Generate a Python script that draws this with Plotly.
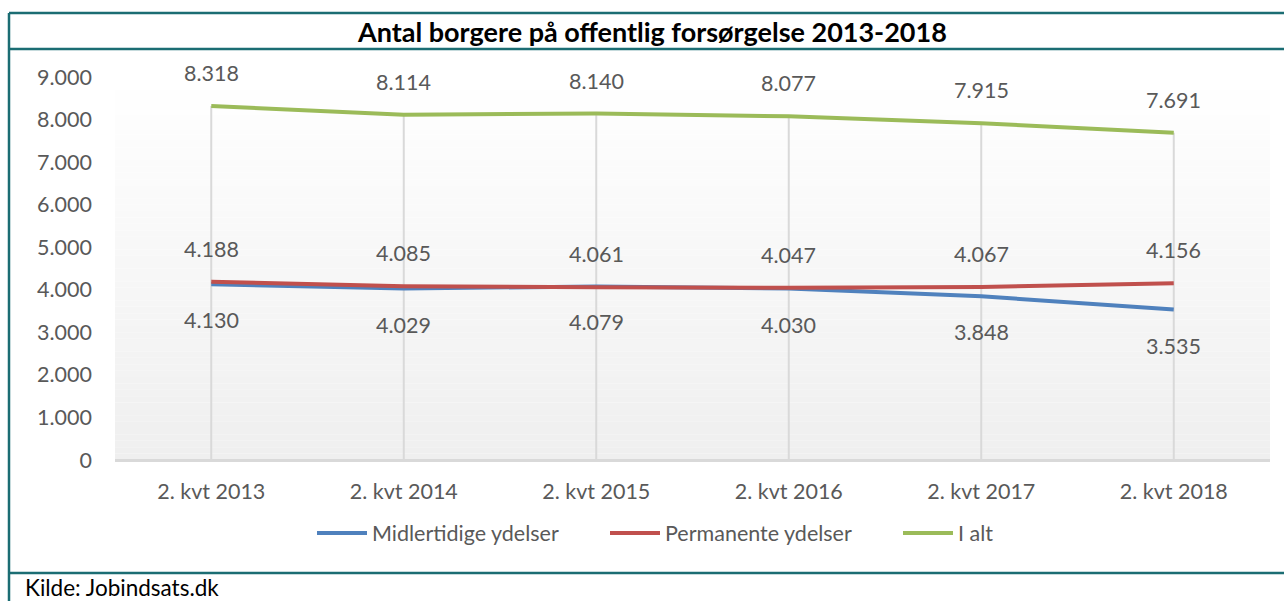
import plotly.graph_objects as go

categories = ["2. kvt 2013", "2. kvt 2014", "2. kvt 2015", "2. kvt 2016", "2. kvt 2017", "2. kvt 2018"]
midlertidige = [4130, 4029, 4079, 4030, 3848, 3535]
permanente = [4188, 4085, 4061, 4047, 4067, 4156]
i_alt = [8318, 8114, 8140, 8077, 7915, 7691]
y_ticks = [0, 1000, 2000, 3000, 4000, 5000, 6000, 7000, 8000, 9000]

W, H = 1284, 601
L, R, T, B = 115, 1270, 77, 460

def px(x):
    return (x - L) / (R - L)

def py(y):
    return (B - y) / (B - T)

FONT = "Lato, Calibri, Carlito, sans-serif"
GRAY = "#595959"
TEAL = "#1b6d73"
FS = 21.5

series = [
    ("Midlertidige ydelser", midlertidige, "#4f81bd", -36),
    ("Permanente ydelser", permanente, "#c0504d", 33),
    ("I alt", i_alt, "#9bbb59", 33),
]

fig = go.Figure()

# vertical gridlines from baseline up to the total line
gx, gy = [], []
for c, v in zip(categories, i_alt):
    gx += [c, c, None]
    gy += [0, v, None]
fig.add_trace(go.Scatter(
    x=gx, y=gy, mode="lines", line=dict(color="#d9d9d9", width=2),
    showlegend=False, hoverinfo="skip",
))

annotations = []
for name, vals, col, shift in series:
    fig.add_trace(go.Scatter(
        x=categories, y=vals, name=name, mode="lines",
        line=dict(color=col, width=4), hoverinfo="skip",
    ))
    for c, v in zip(categories, vals):
        annotations.append(dict(
            x=c, y=v, xref="x", yref="y", text=f"{v:,}".replace(",", "."),
            showarrow=False, yshift=shift, font=dict(family=FONT, size=FS, color=GRAY),
        ))

# Title
annotations.append(dict(
    x=px(652), y=py(31), xref="paper", yref="paper",
    text="<b>Antal borgere på offentlig forsørgelse 2013-2018</b>",
    showarrow=False, font=dict(family=FONT, size=27, color="#000000"),
    xanchor="center", yanchor="middle",
))
# Source
annotations.append(dict(
    x=px(23), y=py(587), xref="paper", yref="paper",
    text="Kilde: Jobindsats.dk", showarrow=False,
    font=dict(family=FONT, size=22.5, color="#000000"),
    xanchor="left", yanchor="middle",
))

shapes = []
# gradient background of plot area
n = 60
for i in range(n):
    t = i / (n - 1)
    g = int(round(255 - (255 - 239) * t))
    shapes.append(dict(
        type="rect", xref="x domain", yref="y domain",
        x0=0, x1=1, y0=1 - (i + 1) / n, y1=1 - i / n,
        fillcolor=f"rgb({g},{g},{g})", line=dict(width=0), layer="below",
    ))

# border lines
for (x0, y0, x1, y1) in [
    (9, 13, 1284, 13),
    (9, 49, 1284, 49),
    (9, 573, 1284, 573),
    (9, 13, 9, 601),
]:
    shapes.append(dict(
        type="line", xref="paper", yref="paper",
        x0=px(x0), y0=py(y0), x1=px(x1), y1=py(y1),
        line=dict(color=TEAL, width=2.5),
    ))

fig.update_layout(
    width=W, height=H,
    margin=dict(l=L, r=W - R, t=T, b=H - B, autoexpand=False),
    paper_bgcolor="white", plot_bgcolor="rgba(0,0,0,0)",
    separators=",.",
    font=dict(family=FONT, size=FS, color=GRAY),
    showlegend=True,
    legend=dict(
        orientation="h", x=px(312), y=py(533), xanchor="left", yanchor="middle",
        font=dict(family=FONT, size=FS, color=GRAY),
        entrywidth=228, entrywidthmode="pixels", itemwidth=50,
        bgcolor="rgba(0,0,0,0)",
    ),
    xaxis=dict(
        type="category", range=[-0.5, 5.5], showgrid=False,
        showline=False, ticks="", ticklabelstandoff=16,
        tickfont=dict(family=FONT, size=FS, color=GRAY), fixedrange=True,
    ),
    yaxis=dict(
        range=[0, 9000], tickvals=y_ticks, tickformat=",d", showgrid=False,
        zeroline=True, zerolinecolor="#d9d9d9", zerolinewidth=3,
        showline=False, ticks="", ticklabelstandoff=22,
        tickfont=dict(family=FONT, size=FS, color=GRAY), fixedrange=True,
    ),
    shapes=shapes,
    annotations=annotations,
)

fig.write_html("out.html", config={"displayModeBar": False},
               post_script="document.body.style.margin='0';")
